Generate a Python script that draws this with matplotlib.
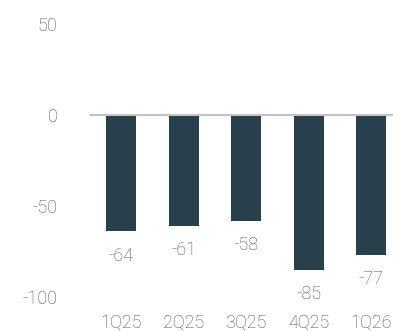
import matplotlib
matplotlib.use("Agg")
import matplotlib.pyplot as plt

# data
quarters = ["1Q25", "2Q25", "3Q25", "4Q25", "1Q26"]
values = [-64, -61, -58, -85, -77]
yticks = [-100, -50, 0, 50]

bar_color = "#27404c"
text_color = "#555555"

plt.rcParams['font.family'] = ['Roboto', 'DejaVu Sans']
plt.rcParams['font.weight'] = 'light'
plt.rcParams['axes.unicode_minus'] = False

fig = plt.figure(figsize=(3.93, 3.31), dpi=100)
ax = fig.add_axes([90/393, 34/331, 303/393, 273/331])

x = range(len(quarters))
ax.bar(x, values, width=0.48, color=bar_color, zorder=2)
ax.axhline(0, color="#c4c4c4", lw=1.5, zorder=3)

# value labels under each bar
for i, v in enumerate(values):
    ax.annotate(str(v), (i, v), xytext=(0, -17.5), textcoords="offset points",
                ha="center", va="center", fontsize=13, color=text_color)

ax.set_xlim(-0.5, 4.348)
ax.set_ylim(-100, 50)
ax.set_xticks(list(x))
ax.set_xticklabels(quarters)
ax.set_yticks(yticks)
ax.tick_params(axis="both", length=0, labelsize=13, labelcolor=text_color)
ax.tick_params(axis="y", pad=23.5)
ax.tick_params(axis="x", pad=12)
for s in ax.spines.values():
    s.set_visible(False)

fig.savefig("out.png", dpi=100)
